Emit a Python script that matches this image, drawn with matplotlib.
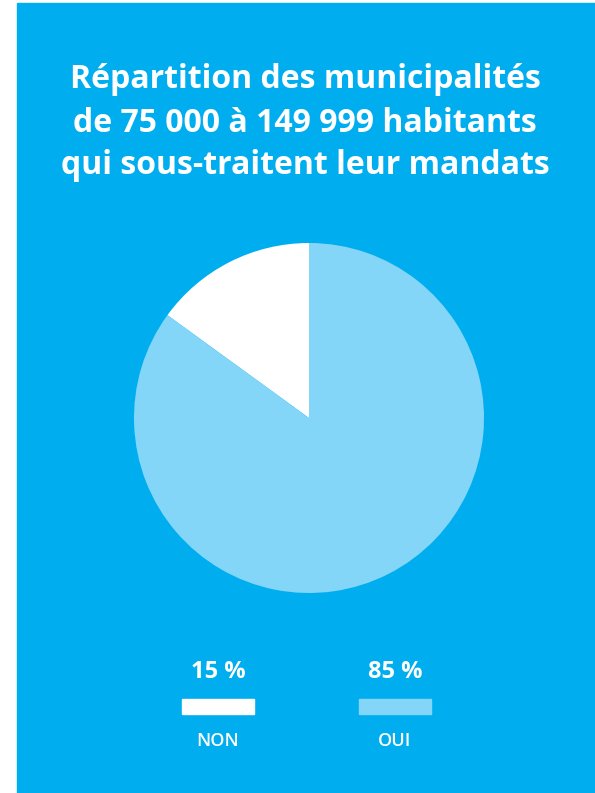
import matplotlib
matplotlib.use('Agg')
import matplotlib.pyplot as plt
from matplotlib.patches import Rectangle

# data
categories = ['NON', 'OUI']
shares = [15, 85]
colours = ['#ffffff', '#84d6f8']
title = 'Répartition des municipalités\nde 75 000 à 149 999 habitants\nqui sous-traitent leur mandats'

W, H = 595, 793
bg = '#00aeef'

fig = plt.figure(figsize=(W / 100, H / 100), dpi=100)
fig.patch.set_facecolor('white')

# blue panel
fig.patches.append(Rectangle((17 / W, 0), 1 - 17 / W, (H - 3) / H,
                             transform=fig.transFigure, color=bg, zorder=-5))

# title
fig.text(305 / W, 1 - 123 / H, title, ha='center', va='center',
         color='white', fontsize=23, fontweight='bold', family='Open Sans',
         linespacing=1.4)

# pie, centre (309, 418) px, radius 175 px
ax = fig.add_axes([134 / W, (H - 593) / H, 350 / W, 350 / H])
ax.set_zorder(2)
ax.pie(shares, colors=colours, startangle=90, counterclock=True,
       radius=1, wedgeprops=dict(linewidth=0))
ax.set_xlim(-1, 1)
ax.set_ylim(-1, 1)
ax.set_aspect('equal')
ax.axis('off')

# legend
centres = [218, 395]
for cx, cat, val, col in zip(centres, categories, shares, colours):
    fig.text(cx / W, 1 - 672 / H, f'{val} %', ha='center', va='center',
             color='white', fontsize=17, fontweight='bold', family='Open Sans')
    fig.patches.append(Rectangle(((cx - 36) / W, 1 - 714 / H), 72 / W, 15 / H,
                                 transform=fig.transFigure, color=col, zorder=2))
    fig.text(cx / W, 1 - 741 / H, cat, ha='center', va='center',
             color='white', fontsize=13, fontweight='semibold', family='Open Sans')

fig.savefig('out.png', dpi=100, facecolor=fig.get_facecolor())
